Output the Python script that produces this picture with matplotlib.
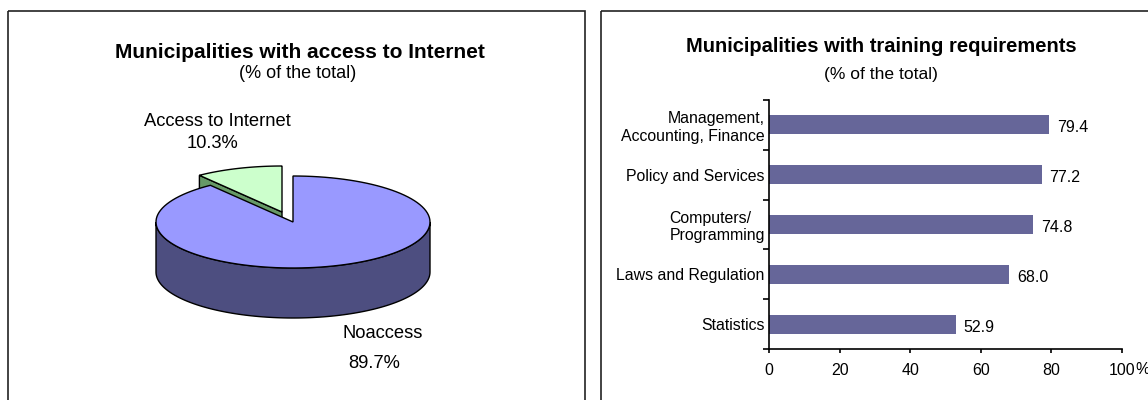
import numpy as np
import matplotlib.pyplot as plt
from matplotlib.patches import Polygon, Rectangle

plt.rcParams["font.family"] = ["Liberation Sans", "DejaVu Sans"]


# Pie data
pie_labels = ["Access to Internet", "Noaccess"]
pie_values = [10.3, 89.7]

# Bar data
bar_categories = [
    "Management,\nAccounting, Finance",
    "Policy and Services",
    "Computers/\nProgramming",
    "Laws and Regulation",
    "Statistics",
]
bar_values = [79.4, 77.2, 74.8, 68.0, 52.9]
x_ticks = [0, 20, 40, 60, 80, 100]


W, H = 1148, 400
fig = plt.figure(figsize=(W / 100, H / 100), dpi=100)

# background canvas in pixel units (y pointing down)
bg = fig.add_axes([0, 0, 1, 1])
bg.set_xlim(0, W)
bg.set_ylim(H, 0)
bg.axis("off")

# panel frames
bg.add_patch(Rectangle((8, 11), 577, 420, fill=False,
                       edgecolor="#222222", lw=1.2))
bg.add_patch(Rectangle((601, 11), 600, 420, fill=False,
                       edgecolor="#222222", lw=1.2))


# ==========================
# 3D pie
# ==========================

cx, cy = 293, 222
rx, ry = 137, 46
depth = 50
explode = (-11, -10)

top_colors = ["#CCFFCC", "#9999FF"]
side_colors = ["#669966", "#4D4E80"]


def arc(t0, t1, ox=0, oy=0, dz=0, n=120):
    t = np.linspace(t0, t1, n)
    return np.column_stack([cx + ox + rx * np.cos(t),
                            cy + oy - ry * np.sin(t) + dz])


edges = np.radians(90 + np.cumsum([0] + pie_values) / 100 * 360)

# exploded slice (drawn first, main pie covers it)
ox, oy = explode
t0, t1 = edges[0], edges[1]
c = np.array([cx + ox, cy + oy])
p = arc(t1, t1, ox, oy, n=1)[0]
side = [c, p, p + [0, depth], c + [0, depth]]
bg.add_patch(Polygon(side, closed=True, facecolor=side_colors[0],
                     edgecolor="black", lw=1))
top = np.vstack([c, arc(t0, t1, ox, oy)])
bg.add_patch(Polygon(top, closed=True, facecolor=top_colors[0],
                     edgecolor="black", lw=1))

# main pie
t0, t1 = edges[1], edges[2]
lo, hi = max(t0, np.pi), min(t1, 2 * np.pi)
side = np.vstack([arc(lo, hi), arc(hi, lo, dz=depth)])
bg.add_patch(Polygon(side, closed=True, facecolor=side_colors[1],
                     edgecolor="black", lw=1))
top = np.vstack([[cx, cy], arc(t0, t1)])
bg.add_patch(Polygon(top, closed=True, facecolor=top_colors[1],
                     edgecolor="black", lw=1))

# pie labels
bg.text(217, 122, pie_labels[0], ha="center", va="center", fontsize=13.2)
bg.text(212, 143, f"{pie_values[0]:.1f}%", ha="center", va="center",
        fontsize=13.2)
bg.text(383, 333, pie_labels[1], ha="center", va="center", fontsize=13.2)
bg.text(374, 363, f"{pie_values[1]:.1f}%", ha="center", va="center",
        fontsize=13.2)

bg.text(300, 52, "Municipalities with access to Internet",
        ha="center", va="center", fontsize=15, fontweight="bold")
bg.text(298, 74, "(% of the total)", ha="center", va="center", fontsize=13)


# ==========================
# Bar chart
# ==========================

ax = fig.add_axes([769 / W, (H - 349) / H, 353 / W, 249 / H])

y = np.arange(len(bar_categories))
ax.barh(y, bar_values, height=0.38, color="#666699")

ax.set_xlim(0, 100)
ax.set_ylim(len(bar_categories) - 0.5, -0.5)

for s in ["top", "right"]:
    ax.spines[s].set_visible(False)
for s in ["left", "bottom"]:
    ax.spines[s].set_linewidth(1.2)

ax.set_yticks(y)
ax.set_yticklabels(bar_categories, fontsize=11.4)
ax.set_yticks(np.arange(len(bar_categories) + 1) - 0.5, minor=True)
ax.tick_params(axis="y", which="major", length=0, pad=3)
ax.tick_params(axis="y", which="minor", length=4, width=1.2)
labels = ax.get_yticklabels()
labels[0].set_multialignment("right")
labels[2].set_multialignment("left")

ax.set_xticks(x_ticks)
ax.set_xticklabels([str(v) for v in x_ticks])
ax.tick_params(axis="x", length=3, width=1.2, pad=7, labelsize=11.5)

# "%" after the last tick label
ax.annotate("%", xy=(x_ticks[-1], 0), xycoords=("data", "axes fraction"),
            xytext=(0.834 * 11.5, -(3 * 0.72 + 7)), textcoords="offset points",
            ha="left", va="top", fontsize=11.5, annotation_clip=False)

for yi, v in zip(y, bar_values):
    ax.annotate(f"{v:.1f}", xy=(v, yi), xytext=(8, -3),
                textcoords="offset pixels", ha="left", va="center",
                fontsize=11.5)

bg.text(881, 47, "Municipalities with training requirements",
        ha="center", va="center", fontsize=14.5, fontweight="bold")
bg.text(881, 74, "(% of the total)", ha="center", va="center", fontsize=12.6)


fig.savefig("out.png", dpi=100)
